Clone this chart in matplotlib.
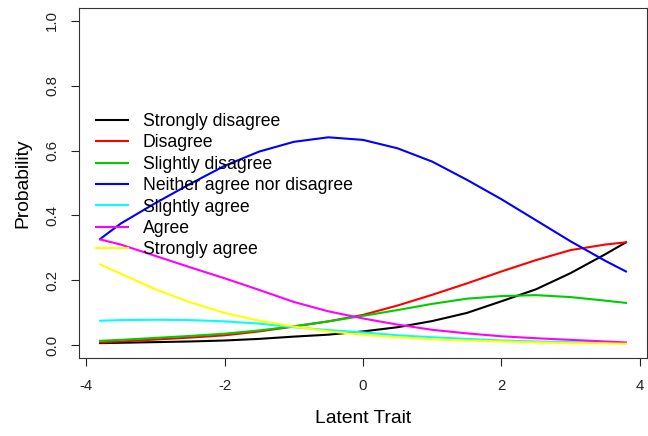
import numpy as np
import matplotlib.pyplot as plt

plt.rcParams['font.family'] = ['Liberation Sans', 'DejaVu Sans']
plt.rcParams['axes.unicode_minus'] = False

# latent trait grid
theta = [-3.8, -3.5, -3.0, -2.5, -2.0, -1.5, -1.0, -0.5, 0.0,
         0.5, 1.0, 1.5, 2.0, 2.5, 3.0, 3.5, 3.8]

strongly_disagree = [0.006, 0.007, 0.009, 0.011, 0.014, 0.019, 0.026, 0.032, 0.042,
                     0.055, 0.074, 0.099, 0.135, 0.172, 0.222, 0.280, 0.317]
disagree = [0.008, 0.011, 0.017, 0.023, 0.030, 0.042, 0.057, 0.073, 0.093,
            0.122, 0.155, 0.190, 0.227, 0.262, 0.293, 0.310, 0.317]
slightly_disagree = [0.013, 0.016, 0.022, 0.028, 0.035, 0.045, 0.058, 0.073, 0.090,
                     0.108, 0.127, 0.143, 0.151, 0.154, 0.148, 0.137, 0.130]
neither = [0.327, 0.375, 0.438, 0.497, 0.553, 0.597, 0.627, 0.641, 0.633,
           0.607, 0.566, 0.510, 0.450, 0.385, 0.320, 0.260, 0.227]
slightly_agree = [0.075, 0.077, 0.078, 0.077, 0.073, 0.066, 0.055, 0.046, 0.039,
                  0.030, 0.024, 0.019, 0.014, 0.011, 0.009, 0.007, 0.006]
agree = [0.326, 0.310, 0.275, 0.240, 0.206, 0.170, 0.133, 0.104, 0.082,
         0.063, 0.047, 0.036, 0.027, 0.021, 0.016, 0.011, 0.008]
strongly_agree = [0.249, 0.220, 0.172, 0.132, 0.099, 0.075, 0.057, 0.042, 0.032,
                  0.024, 0.018, 0.014, 0.011, 0.008, 0.006, 0.005, 0.004]

labels = ['Strongly disagree', 'Disagree', 'Slightly disagree',
          'Neither agree nor disagree', 'Slightly agree', 'Agree', 'Strongly agree']
series = [strongly_disagree, disagree, slightly_disagree, neither,
          slightly_agree, agree, strongly_agree]
colors = ['black', '#FF0000', '#00CD00', '#0000FF', '#00FFFF', '#FF00FF', '#FFFF00']

fig = plt.figure(figsize=(6.48, 4.36), dpi=100)
ax = fig.add_axes([79/648, 1 - 358/436, 568/648, 350/436])

for y, lab, c in zip(series, labels, colors):
    ax.plot(theta, y, color=c, lw=1.5, label=lab)

ax.set_xlim(-4.104, 4.104)
ax.set_ylim(-0.04, 1.04)
ax.set_xticks([-4, -2, 0, 2, 4])
ax.set_yticks([0.0, 0.2, 0.4, 0.6, 0.8, 1.0])
ax.set_yticklabels(['0.0', '0.2', '0.4', '0.6', '0.8', '1.0'], rotation=90, va='center')
ax.tick_params(length=5.8, width=0.8, labelsize=10.8, colors='#222222')
ax.tick_params(axis='x', pad=9.4)
ax.tick_params(axis='y', pad=8.4)
for s in ax.spines.values():
    s.set_linewidth(0.8)
    s.set_color('#333333')

ax.set_xlabel('Latent Trait', fontsize=13.9, labelpad=12)
ax.set_ylabel('Probability', fontsize=13.9, labelpad=10)

ax.legend(loc='upper left', bbox_to_anchor=(96/648, 1 - 113/436),
          bbox_transform=fig.transFigure, frameon=False, fontsize=12.7,
          handlelength=1.8, handletextpad=0.85, labelspacing=0.25,
          borderpad=0, borderaxespad=0)

fig.savefig('out.png', dpi=100)
